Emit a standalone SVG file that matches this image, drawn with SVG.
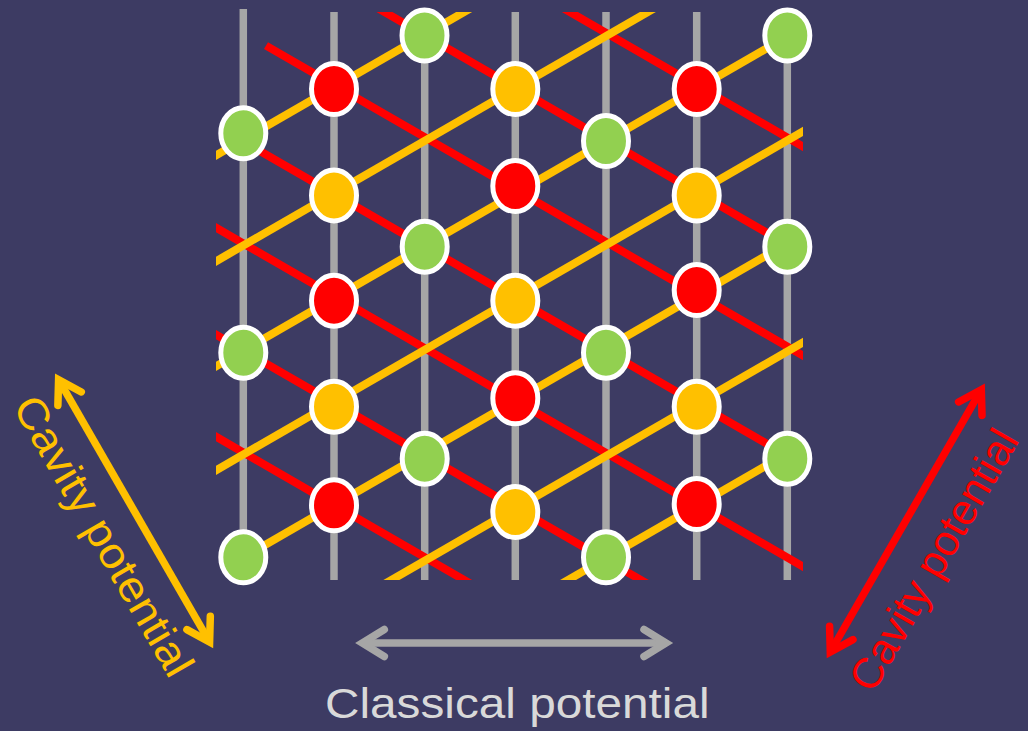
<svg xmlns="http://www.w3.org/2000/svg" width="1028" height="731" viewBox="0 0 1028 731">
<style>
.grid{stroke:#a6a6a6;stroke-width:7.5;fill:none}
.o{stroke:#ffc000;stroke-width:8;fill:none}
.r{stroke:#ff0000;stroke-width:8;fill:none}
.site{stroke:#ffffff;stroke-width:5}
.g{fill:#92d050}
.rd{fill:#ff0000}
.or{fill:#ffc000}
.arr{fill:none;stroke-width:7.5}
.lbl{font-family:"Liberation Sans",Arial,sans-serif;font-size:43px}
</style>
<defs>
<clipPath id="clip"><rect x="216" y="12" width="587" height="568"/></clipPath>
<marker id="mGray" markerUnits="userSpaceOnUse" orient="auto-start-reverse" refX="0" refY="0" markerWidth="60" markerHeight="60" viewBox="-30 -30 60 60" overflow="visible"><path d="M-22,-13.5 L0,0 L-22,13.5" fill="none" stroke="#a6a6a6" stroke-width="7.5" stroke-linecap="round" stroke-linejoin="miter"/></marker>
<marker id="mOrange" markerUnits="userSpaceOnUse" orient="auto-start-reverse" refX="0" refY="0" markerWidth="60" markerHeight="60" viewBox="-30 -30 60 60" overflow="visible"><path d="M-22,-13.5 L0,0 L-22,13.5" fill="none" stroke="#ffc000" stroke-width="7.5" stroke-linecap="round" stroke-linejoin="miter"/></marker>
<marker id="mRed" markerUnits="userSpaceOnUse" orient="auto-start-reverse" refX="0" refY="0" markerWidth="60" markerHeight="60" viewBox="-30 -30 60 60" overflow="visible"><path d="M-22,-13.5 L0,0 L-22,13.5" fill="none" stroke="#ff0000" stroke-width="7.5" stroke-linecap="round" stroke-linejoin="miter"/></marker>
</defs>
<rect x="0" y="0" width="1028" height="731" fill="#3d3b63"/>

<g id="connectors">
  <g id="classical-lines" class="grid">
    <line x1="243.3" y1="9" x2="243.3" y2="580"/>
    <line x1="334" y1="12" x2="334" y2="580"/>
    <line x1="424.7" y1="12" x2="424.7" y2="580"/>
    <line x1="515.3" y1="12" x2="515.3" y2="580"/>
    <line x1="606" y1="12" x2="606" y2="580"/>
    <line x1="696.7" y1="12" x2="696.7" y2="580"/>
    <line x1="787.3" y1="12" x2="787.3" y2="580"/>
  </g>
  <g id="red-cavity-lines" class="r" clip-path="url(#clip)">
    <line x1="530" y1="-11" x2="820" y2="156.4"/>
    <line x1="350" y1="-7.9" x2="787.3" y2="244.6"/>
    <line x1="266" y1="45.6" x2="820" y2="365.4"/>
    <line x1="243.3" y1="141.5" x2="787.3" y2="455.6"/>
    <line x1="200" y1="218.5" x2="830" y2="582.2"/>
    <line x1="200" y1="325.5" x2="680" y2="602.6"/>
    <line x1="200" y1="427.5" x2="500" y2="600.7"/>
  </g>
  <g id="orange-cavity-lines" class="o" clip-path="url(#clip)">
    <line x1="200" y1="164.5" x2="500" y2="-8.7"/>
    <line x1="200" y1="270.5" x2="700" y2="-18.1"/>
    <line x1="200" y1="375.5" x2="787.3" y2="36.4"/>
    <line x1="200" y1="479.5" x2="820" y2="121.6"/>
    <line x1="243.3" y1="557.5" x2="787.3" y2="243.4"/>
    <line x1="350" y1="603.9" x2="820" y2="332.6"/>
    <line x1="540" y1="596.2" x2="787.3" y2="453.4"/>
  </g>
</g>

<g id="sites">
  <g id="g1"><ellipse class="site g" cx="243.3" cy="133.3" rx="22.5" ry="25.5"/></g>
  <g id="g2"><ellipse class="site g" cx="424.5" cy="35.5" rx="22.5" ry="25.5"/></g>
  <g id="g3"><ellipse class="site g" cx="787.3" cy="35.5" rx="22.5" ry="25.5"/></g>
  <g id="g4"><ellipse class="site g" cx="606" cy="141" rx="22.5" ry="25.5"/></g>
  <g id="g5"><ellipse class="site g" cx="424.7" cy="246.7" rx="22.5" ry="25.5"/></g>
  <g id="g6"><ellipse class="site g" cx="787.3" cy="246.7" rx="22.5" ry="25.5"/></g>
  <g id="g7"><ellipse class="site g" cx="243.3" cy="352.7" rx="22.5" ry="25.5"/></g>
  <g id="g8"><ellipse class="site g" cx="606" cy="352.7" rx="22.5" ry="25.5"/></g>
  <g id="g9"><ellipse class="site g" cx="424.7" cy="458.7" rx="22.5" ry="25.5"/></g>
  <g id="g10"><ellipse class="site g" cx="787.3" cy="458.7" rx="22.5" ry="25.5"/></g>
  <g id="g11"><ellipse class="site g" cx="243.3" cy="557.3" rx="22.5" ry="25.5"/></g>
  <g id="g12"><ellipse class="site g" cx="606" cy="557.3" rx="22.5" ry="25.5"/></g>

  <g id="r1"><ellipse class="site rd" cx="334" cy="89" rx="22.5" ry="25.5"/></g>
  <g id="r2"><ellipse class="site rd" cx="696.7" cy="89" rx="22.5" ry="25.5"/></g>
  <g id="r3"><ellipse class="site rd" cx="515.3" cy="186" rx="22.5" ry="25.5"/></g>
  <g id="r4"><ellipse class="site rd" cx="334" cy="300.7" rx="22.5" ry="25.5"/></g>
  <g id="r5"><ellipse class="site rd" cx="696.7" cy="290" rx="22.5" ry="25.5"/></g>
  <g id="r6"><ellipse class="site rd" cx="515.3" cy="398.3" rx="22.5" ry="25.5"/></g>
  <g id="r7"><ellipse class="site rd" cx="334" cy="505.3" rx="22.5" ry="25.5"/></g>
  <g id="r8"><ellipse class="site rd" cx="696.7" cy="504" rx="22.5" ry="25.5"/></g>

  <g id="o1"><ellipse class="site or" cx="515.3" cy="89" rx="22.5" ry="25.5"/></g>
  <g id="o2"><ellipse class="site or" cx="334" cy="195.4" rx="22.5" ry="25.5"/></g>
  <g id="o3"><ellipse class="site or" cx="696.7" cy="195.5" rx="22.5" ry="25.5"/></g>
  <g id="o4"><ellipse class="site or" cx="515.3" cy="300.7" rx="22.5" ry="25.5"/></g>
  <g id="o5"><ellipse class="site or" cx="334" cy="406.7" rx="22.5" ry="25.5"/></g>
  <g id="o6"><ellipse class="site or" cx="696.7" cy="406.7" rx="22.5" ry="25.5"/></g>
  <g id="o7"><ellipse class="site or" cx="515.3" cy="512" rx="22.5" ry="25.5"/></g>
</g>

<g id="classical-arrow">
  <line class="arr" stroke="#a6a6a6" x1="362.3" y1="643" x2="666" y2="643" marker-start="url(#mGray)" marker-end="url(#mGray)"/>
  <text class="lbl" fill="#d9d9d9" transform="translate(325,718) scale(1.11,1)" x="0" y="0">Classical potential</text>
</g>
<g id="cavity-arrow-orange">
  <line class="arr" stroke="#ffc000" x1="58.6" y1="379.6" x2="209.6" y2="642" marker-start="url(#mOrange)" marker-end="url(#mOrange)"/>
  <text class="lbl" fill="#ffc000" transform="translate(12,406.5) rotate(60) scale(1.075,1)" x="0" y="0">Cavity potential</text>
</g>
<g id="cavity-arrow-red">
  <line class="arr" stroke="#ff0000" x1="830.3" y1="652" x2="981.3" y2="389.6" marker-start="url(#mRed)" marker-end="url(#mRed)"/>
  <text class="lbl" fill="#ff0000" transform="translate(873,694.5) rotate(-60)" x="0" y="0">Cavity potential</text>
</g>
</svg>
